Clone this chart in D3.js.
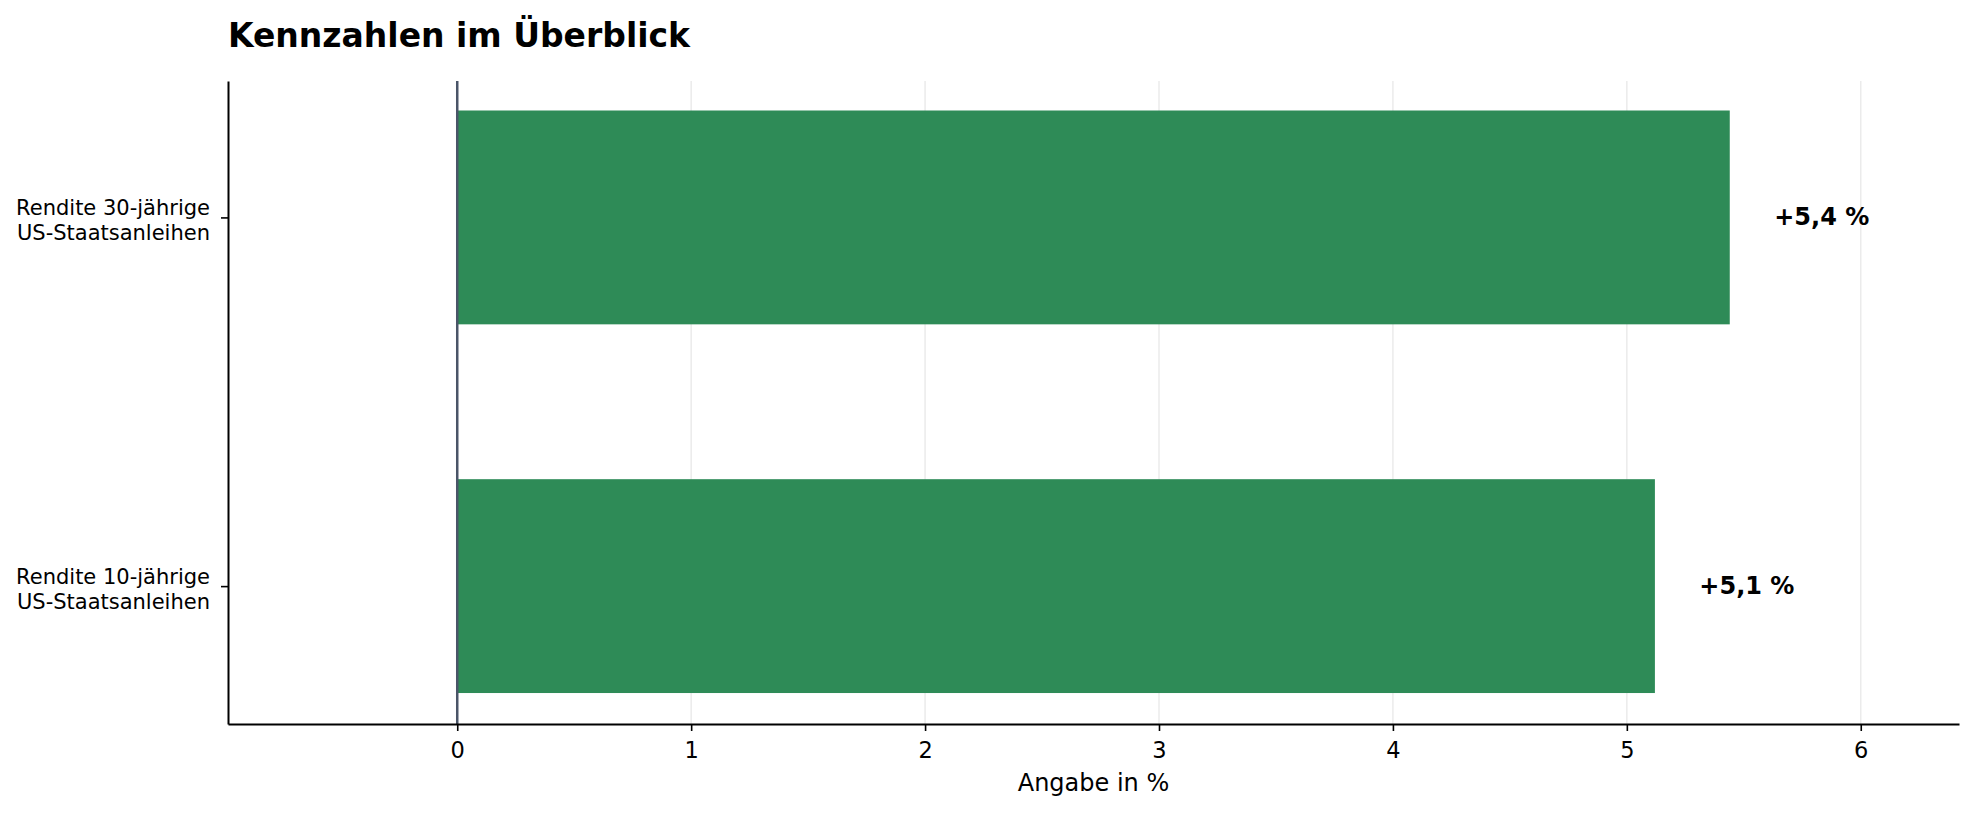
<!DOCTYPE html>
<html>
<head>
<meta charset="utf-8">
<script src="https://cdn.jsdelivr.net/npm/d3@7"></script>
<style>
  body { margin: 0; background: #fff; }
  svg { display: block; font-family: "DejaVu Sans", sans-serif; }
</style>
</head>
<body>
<svg id="chart"></svg>
<script>
// Daten (von unten nach oben, wie im Original)
const categories = [
  ["Rendite 10-jährige", "US-Staatsanleihen"],
  ["Rendite 30-jährige", "US-Staatsanleihen"]
]
const values = [5.12, 5.44]
const xTicks = [0, 1, 2, 3, 4, 5, 6]
const title = "Kennzahlen im Überblick"
const xLabel = "Angabe in %"

const colors = {
  bar: "#2e8b57",
  grid: "#ebebeb",
  zero: "#4a5568",
  axis: "#000"
}

const W = 1975, H = 814
const margin = {top: 81, right: 16, bottom: 90, left: 228}
const barHeight = 0.58

const svg = d3.select("#chart").attr("width", W).attr("height", H)

const x = d3.scaleLinear().domain([-0.98, 6.42]).range([margin.left, W - margin.right])
const y = d3.scaleLinear().domain([-0.374, 1.37]).range([H - margin.bottom, margin.top])

// Gitterlinien
svg.append("g").attr("class", "grid")
  .selectAll("line")
  .data(xTicks)
  .enter()
  .append("line")
  .attr("x1", d => x(d)).attr("x2", d => x(d))
  .attr("y1", margin.top).attr("y2", H - margin.bottom)
  .attr("stroke", colors.grid)
  .attr("stroke-width", 1.5)

// Balken
svg.append("g").attr("class", "bars")
  .selectAll("rect")
  .data(values)
  .enter()
  .append("rect")
  .attr("x", x(0))
  .attr("width", d => x(d) - x(0))
  .attr("y", (d, i) => y(i + barHeight / 2))
  .attr("height", (d, i) => y(i - barHeight / 2) - y(i + barHeight / 2))
  .attr("fill", colors.bar)

// Nulllinie
svg.append("line")
  .attr("x1", x(0)).attr("x2", x(0))
  .attr("y1", margin.top).attr("y2", H - margin.bottom)
  .attr("stroke", colors.zero)
  .attr("stroke-width", 2.5)

// Wertbeschriftungen
const fmt = v => "+" + v.toFixed(1).replace(".", ",") + " %"
svg.append("g").attr("class", "labels")
  .selectAll("text")
  .data(values)
  .enter()
  .append("text")
  .attr("x", d => x(d + 0.19))
  .attr("y", (d, i) => y(i) + 7.5)
  .attr("font-size", 24)
  .attr("font-weight", "bold")
  .attr("fill", "#000")
  .text(d => fmt(d))

// x-Achse
const xAxis = svg.append("g")
  .attr("transform", `translate(0,${H - margin.bottom})`)
  .call(d3.axisBottom(x).tickValues(xTicks).tickFormat(d3.format("d")).tickSizeInner(7).tickSizeOuter(0).tickPadding(7))
xAxis.select(".domain").attr("stroke", colors.axis).attr("stroke-width", 2)
xAxis.selectAll(".tick line").attr("stroke", colors.axis).attr("stroke-width", 1.6)
xAxis.selectAll(".tick text")
  .attr("font-size", 22.5)
  .attr("font-family", "DejaVu Sans")
  .attr("fill", "#000")
  .attr("dy", null)
  .attr("y", 34)

// y-Achse
const yAxis = svg.append("g")
  .attr("transform", `translate(${margin.left},0)`)
  .call(d3.axisLeft(y).tickValues([0, 1]).tickSizeInner(7).tickSizeOuter(0).tickFormat(""))
yAxis.select(".domain").attr("stroke", colors.axis).attr("stroke-width", 2)
yAxis.selectAll(".tick line").attr("stroke", colors.axis).attr("stroke-width", 1.6)
yAxis.selectAll(".tick text").remove()
yAxis.selectAll(".tick")
  .append("text")
  .attr("text-anchor", "end")
  .attr("font-size", 21)
  .attr("font-family", "DejaVu Sans")
  .attr("fill", "#000")
  .selectAll("tspan")
  .data(d => categories[d])
  .enter()
  .append("tspan")
  .attr("x", -18)
  .attr("y", (d, i) => i === 0 ? -3 : 22)
  .text(d => d)

// Achsentitel
svg.append("text")
  .attr("x", (margin.left + W - margin.right) / 2)
  .attr("y", 791)
  .attr("text-anchor", "middle")
  .attr("font-size", 24)
  .attr("fill", "#000")
  .text(xLabel)

// Titel
svg.append("text")
  .attr("x", margin.left)
  .attr("y", 47)
  .attr("font-size", 33)
  .attr("font-weight", "bold")
  .attr("fill", "#000")
  .text(title)
</script>
</body>
</html>
